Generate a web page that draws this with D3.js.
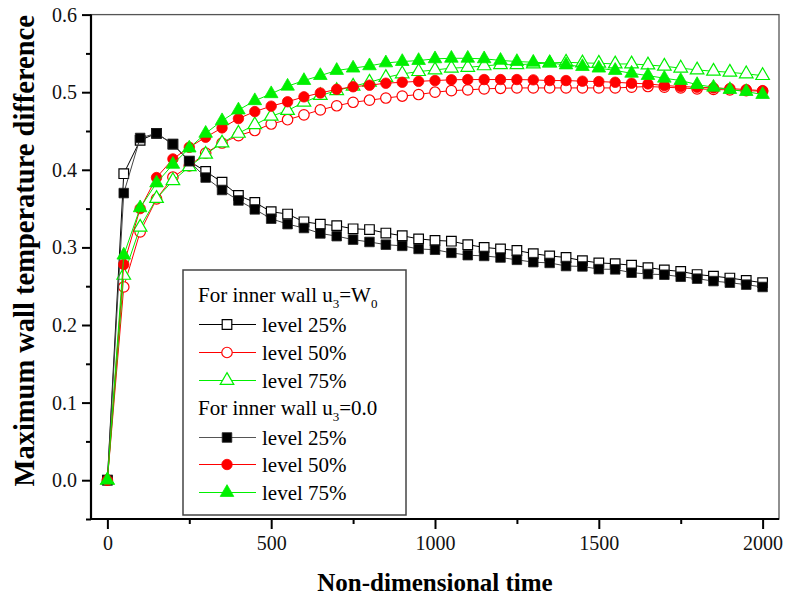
<!DOCTYPE html>
<html>
<head>
<meta charset="utf-8">
<script src="https://cdn.jsdelivr.net/npm/d3@7"></script>
<style>
  html, body { margin: 0; padding: 0; background: #fff; }
  svg { display: block; font-family: "Liberation Serif", "Times New Roman", serif; }
</style>
</head>
<body>
<svg id="chart" width="786" height="603"></svg>
<script>
// Sample times (non-dimensional), every 50 units
const times = d3.range(0, 2001, 50);

// Inner wall u3 = W0
const w0Level25 = [0, 0.395, 0.438, 0.447, 0.433, 0.411, 0.398, 0.384, 0.367, 0.358,
  0.346, 0.343, 0.333, 0.330, 0.328, 0.324, 0.323, 0.3185, 0.315, 0.311,
  0.309, 0.308, 0.3035, 0.300, 0.298, 0.296, 0.292, 0.289, 0.287, 0.283,
  0.280, 0.279, 0.277, 0.274, 0.271, 0.269, 0.265, 0.263, 0.2605, 0.2575, 0.2545];
const w0Level50 = [0, 0.249, 0.320, 0.3625, 0.3905, 0.405, 0.4215, 0.4345, 0.444, 0.4506,
  0.459, 0.4645, 0.4708, 0.4772, 0.4825, 0.487, 0.4897, 0.4925, 0.495, 0.497,
  0.500, 0.502, 0.503, 0.5043, 0.505, 0.5055, 0.5055, 0.5055, 0.5055, 0.5055,
  0.5055, 0.5055, 0.5064, 0.5073, 0.5064, 0.5055, 0.5043, 0.5035, 0.503, 0.502, 0.5013];
const w0Level75 = [0, 0.264, 0.326, 0.363, 0.386, 0.404, 0.420, 0.4345, 0.447, 0.458,
  0.469, 0.4764, 0.487, 0.4957, 0.502, 0.5077, 0.5128, 0.519, 0.5236, 0.5266,
  0.5287, 0.531, 0.532, 0.534, 0.5355, 0.5355, 0.5364, 0.5377, 0.5386, 0.5377,
  0.5373, 0.5364, 0.5364, 0.5351, 0.5335, 0.531, 0.5287, 0.527, 0.5257, 0.5236, 0.5214];

// Inner wall u3 = 0.0
const zeroLevel25 = [0, 0.370, 0.441, 0.447, 0.433, 0.411, 0.390, 0.374, 0.3605, 0.349,
  0.337, 0.330, 0.325, 0.318, 0.3145, 0.310, 0.307, 0.3035, 0.302, 0.298,
  0.297, 0.293, 0.290, 0.289, 0.287, 0.284, 0.281, 0.280, 0.276, 0.2755,
  0.272, 0.2717, 0.2674, 0.2657, 0.2648, 0.2622, 0.2597, 0.2566, 0.2545, 0.252, 0.249];
const zeroLevel50 = [0, 0.278, 0.350, 0.390, 0.414, 0.429, 0.442, 0.454, 0.466, 0.475,
  0.482, 0.4877, 0.494, 0.499, 0.5037, 0.507, 0.509, 0.5116, 0.5128, 0.514,
  0.515, 0.516, 0.5163, 0.5163, 0.5163, 0.5163, 0.5159, 0.515, 0.515, 0.5142,
  0.5137, 0.5128, 0.5116, 0.5107, 0.5086, 0.5073, 0.5064, 0.5055, 0.5047, 0.5034, 0.502];
const zeroLevel75 = [0, 0.290, 0.351, 0.383, 0.407, 0.428, 0.447, 0.4632, 0.477, 0.489,
  0.498, 0.5077, 0.515, 0.5214, 0.528, 0.531, 0.534, 0.5377, 0.5395, 0.5408,
  0.543, 0.5437, 0.5437, 0.543, 0.541, 0.5395, 0.5386, 0.5377, 0.5351, 0.533,
  0.531, 0.528, 0.5244, 0.5214, 0.518, 0.515, 0.5098, 0.5064, 0.5034, 0.5008, 0.497];

// Axis ticks
const xMajorTicks = [0, 500, 1000, 1500, 2000];
const xMinorTicks = [250, 750, 1250, 1750];
const yMajorTicks = [0.0, 0.1, 0.2, 0.3, 0.4, 0.5, 0.6];
const yMinorTicks = [-0.05, 0.05, 0.15, 0.25, 0.35, 0.45, 0.55];

const xTitle = "Non-dimensional time";
const yTitle = "Maximum wall temperature difference";

const GREEN = "#00f000";

// Series definitions: drawing order puts the filled markers on top
const series = [
  { values: w0Level25,   shape: "square",   color: "#000000", line: "#000000", filled: false },
  { values: w0Level50,   shape: "circle",   color: "#ff0000", line: "#ff0000", filled: false },
  { values: w0Level75,   shape: "triangle", color: GREEN,     line: GREEN,     filled: false },
  { values: zeroLevel25, shape: "square",   color: "#000000", line: "#444444", filled: true },
  { values: zeroLevel50, shape: "circle",   color: "#ff0000", line: "#ff0000", filled: true },
  { values: zeroLevel75, shape: "triangle", color: GREEN,     line: GREEN,     filled: true }
];

const svg = d3.select("#chart");
const plot = { left: 91, right: 779, top: 14.6, bottom: 519 };

const x = d3.scaleLinear().domain([-50, 2050]).range([plot.left, plot.right]);
const y = d3.scaleLinear().domain([-0.05, 0.6]).range([plot.bottom, plot.top]);

// Frame: thin grey top/right edges
svg.append("rect")
  .attr("x", plot.left).attr("y", plot.top)
  .attr("width", plot.right - plot.left).attr("height", plot.bottom - plot.top)
  .attr("fill", "none").attr("stroke", "#555").attr("stroke-width", 1.3);

const tickFont = 20;

// Y axis
const yAxis = svg.append("g")
  .attr("transform", `translate(${plot.left},0)`)
  .call(d3.axisLeft(y).tickValues(yMajorTicks).tickFormat(d3.format(".1f"))
        .tickSize(9).tickPadding(5));
yAxis.append("g").call(d3.axisLeft(y).tickValues(yMinorTicks).tickFormat("").tickSize(5))
  .select(".domain").remove();

// X axis
const xAxis = svg.append("g")
  .attr("transform", `translate(0,${plot.bottom})`)
  .call(d3.axisBottom(x).tickValues(xMajorTicks).tickFormat(d3.format("d"))
        .tickSize(10).tickPadding(7));
xAxis.append("g").call(d3.axisBottom(x).tickValues(xMinorTicks).tickFormat("").tickSize(5))
  .select(".domain").remove();

[yAxis, xAxis].forEach(ax => {
  ax.attr("font-family", "Liberation Serif, serif");
  ax.selectAll(".domain").attr("stroke", "#000").attr("stroke-width", 2.2);
  ax.selectAll(".tick line").attr("stroke", "#000").attr("stroke-width", 2);
  ax.selectAll("text").attr("font-family", "Liberation Serif, serif")
    .attr("font-size", tickFont).attr("fill", "#111");
});
yAxis.selectAll(".domain").attr("d", `M0,${plot.top}V${plot.bottom}`);
xAxis.selectAll(".domain").attr("d", `M${plot.left},0H${plot.right}`);

// Axis titles
svg.append("text")
  .attr("x", 435).attr("y", 591)
  .attr("text-anchor", "middle")
  .attr("font-weight", "bold").attr("font-size", 25)
  .text(xTitle);
svg.append("text")
  .attr("transform", `translate(34,${(plot.top + 487) / 2}) rotate(-90)`)
  .attr("text-anchor", "middle")
  .attr("font-weight", "bold").attr("font-size", 28.5)
  .text(yTitle);

// Marker drawing
const symbolFor = {
  square: d3.symbol().type(d3.symbolSquare).size(92),
  circle: d3.symbol().type(d3.symbolCircle).size(86),
  triangle: d3.symbol().type(d3.symbolTriangle).size(80)
};
function drawMarker(sel, s) {
  sel.attr("d", symbolFor[s.shape]())
    .attr("fill", s.filled ? s.color : "#fff")
    .attr("stroke", s.filled ? (s.shape === "square" ? "#222" : s.color) : s.color)
    .attr("stroke-width", s.filled ? 0.8 : 1.2);
}

const line = d3.line().x((d, i) => x(times[i])).y(d => y(d));

const marks = svg.append("g");
series.forEach(s => {
  const g = marks.append("g");
  g.append("path").datum(s.values)
    .attr("d", line).attr("fill", "none")
    .attr("stroke", s.line).attr("stroke-width", 1);
  g.selectAll("path.m").data(s.values).join("path")
    .attr("class", "m")
    .attr("transform", (d, i) => `translate(${x(times[i])},${y(d)})`)
    .call(drawMarker, s);
});

// Legend
const legend = svg.append("g");
legend.append("rect")
  .attr("x", 183).attr("y", 270).attr("width", 223).attr("height", 245)
  .attr("fill", "#fff").attr("stroke", "#444").attr("stroke-width", 1.5);

const legFont = 21;
function header(yBase, main, sub, tail, sub2) {
  const t = legend.append("text").attr("x", 198).attr("y", yBase).attr("font-size", legFont);
  t.append("tspan").text(main);
  t.append("tspan").attr("font-size", 13).attr("dy", 6).text(sub);
  t.append("tspan").attr("dy", -6).text(tail);
  if (sub2) t.append("tspan").attr("font-size", 13).attr("dy", 6).text(sub2);
}
header(302, "For inner wall u", "3", "=W", "0");
header(415, "For inner wall u", "3", "=0.0", null);

const legendRows = [
  { s: series[0], label: "level 25%", yb: 332 },
  { s: series[1], label: "level 50%", yb: 360 },
  { s: series[2], label: "level 75%", yb: 388 },
  { s: series[3], label: "level 25%", yb: 445 },
  { s: series[4], label: "level 50%", yb: 472 },
  { s: series[5], label: "level 75%", yb: 500 }
];
legendRows.forEach(r => {
  const cy = r.yb - 7.5;
  legend.append("line")
    .attr("x1", 199).attr("x2", 256).attr("y1", cy).attr("y2", cy)
    .attr("stroke", r.s.filled && r.s.shape === "square" ? "#555" : r.s.line)
    .attr("stroke-width", 1.2);
  legend.append("path")
    .attr("transform", `translate(227,${cy})`)
    .call(drawMarker, r.s);
  legend.append("text").attr("x", 262).attr("y", r.yb)
    .attr("font-size", legFont).text(r.label);
});
</script>
</body>
</html>
